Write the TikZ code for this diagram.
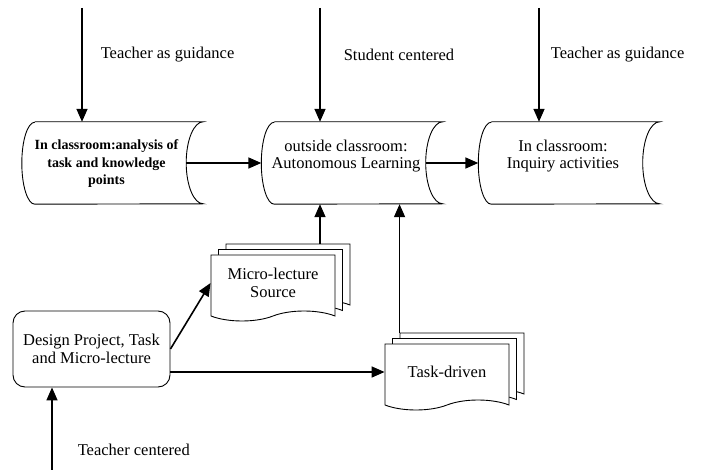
\documentclass[tikz,border=0pt]{standalone}
\usepackage{fontspec}
\setmainfont{Liberation Serif}
\usetikzlibrary{positioning,arrows.meta,shapes.symbols,shadows}

\tikzset{
  flow/.style={line width=1.6pt,-{Triangle[length=13pt,width=11pt]}},
  lab/.style={inner sep=0pt},
  store/.style={minimum width=181pt,minimum height=82pt,inner sep=0pt,
    execute at begin node={\begin{minipage}[c][46pt][t]{160pt}\centering},
    execute at end node={\end{minipage}\hspace*{12pt}}},
  storeline/.style={line width=0.9pt},
  design/.style={draw,line width=0.9pt,rounded corners=12pt,align=center,
    minimum width=157pt,minimum height=76pt,inner sep=2pt},
  doc/.style={tape,draw,fill=white,line width=0.9pt,align=center,
    tape bend top=none,tape bend bottom=in and out,tape bend height=10pt,
    minimum width=124pt,minimum height=66pt,inner sep=2pt,
    general shadow={shadow xshift=15pt,shadow yshift=11pt,fill=white,draw,line width=0.9pt},
    general shadow={shadow xshift=7.5pt,shadow yshift=5.5pt,fill=white,draw,line width=0.9pt}}
}

\begin{document}
\begin{tikzpicture}[x=1pt,y=-1pt,font=\fontsize{16.5}{17.5}\selectfont]
  \useasboundingbox (0,0) rectangle (701,470);

  % upper row
  \node[store] (class1) at (112.5,163) {\bfseries\fontsize{14}{17.5}\selectfont
    In classroom:analysis of\\task and knowledge\\points};
  \node[store] (outside) at (352,163) {outside classroom:\\Autonomous Learning};
  \node[store] (class2) at (569,163) {In classroom:\\Inquiry activities};
  \foreach \n in {class1,outside,class2}
    \draw[storeline] ([xshift=13pt]\n.north west) -- (\n.north east)
      arc[start angle=90,end angle=270,x radius=17pt,y radius=41pt]
      -- ([xshift=13pt]\n.south west)
      arc[start angle=270,end angle=90,x radius=13pt,y radius=41pt];

  % lower part
  \node[design] (design) at (91.5,349) {Design Project, Task\\and Micro-lecture};
  \node[doc] (micro) at (273,283) {Micro-lecture\\Source};
  \node[doc] (task) at (447,372) {Task-driven};

  \coordinate (t1) at (82,8);
  \coordinate (t2) at (320,8);
  \coordinate (t3) at (539,8);
  \coordinate (t4) at (52,470);
  \coordinate (ms) at ([xshift=47pt,yshift=11pt]micro.north);
  \coordinate (ts) at ([xshift=15pt,yshift=11pt]task.north west);

  \draw[flow] (t1) -- node[lab,pos=0.41,right=18pt] {Teacher as guidance} (t1 |- class1.north);
  \draw[flow] (t2) -- node[lab,pos=0.41,right=23pt] {Student centered} (t2 |- outside.north);
  \draw[flow] (t3) -- node[lab,pos=0.41,right=11pt] {Teacher as guidance} (t3 |- class2.north);
  \draw[flow] (t4) -- node[lab,pos=0.25,right=25pt] {Teacher centered} (t4 |- design.south);

  \draw[flow] ([xshift=-17pt]class1.east) -- (outside.west);
  \draw[flow] ([xshift=-17pt]outside.east) -- (class2.west);
  \draw[flow] (design.east) -- (micro.west);
  \draw[flow] (design.east |- task.west) -- (task.west);
  \draw[flow] (ms) -- (ms |- outside.south);
  \draw[flow] (ts) -- (ts |- outside.south);
\end{tikzpicture}
\end{document}
